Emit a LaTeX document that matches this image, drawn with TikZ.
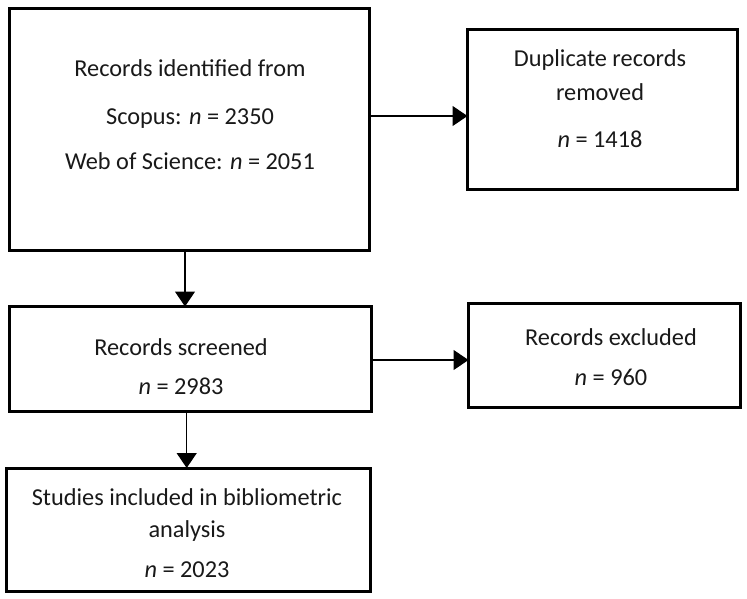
\documentclass[tikz,border=0pt]{standalone}
\usepackage{fontspec}
\setmainfont{Carlito}
\usetikzlibrary{arrows.meta}
\begin{document}
\begin{tikzpicture}[x=1pt,y=-1pt,
  box/.style={draw=black,line width=3pt,inner sep=0pt,outer sep=0pt,rectangle},
  txt/.style={anchor=base,inner sep=0pt,text=black!90,font=\fontsize{24.3}{29}\selectfont},
  arr/.style={draw=black,line width=1.3pt,-{Triangle[length=15pt,width=20pt]}}]
\useasboundingbox (0,0) rectangle (747,598);
\fill[white] (0,0) rectangle (747,598);
% boxes
\node[box,minimum width=360.5pt,minimum height=241.3pt] (b1) at (189.25,129.35) {};
\node[box,minimum width=270pt,minimum height=159.5pt] (b2) at (602.5,109.25) {};
\node[box,minimum width=362.5pt,minimum height=105pt] (b3) at (190.25,359) {};
\node[box,minimum width=271.5pt,minimum height=103.5pt] (b4) at (604.25,355.25) {};
\node[box,minimum width=363.3pt,minimum height=123.7pt] (b5) at (188.35,529.85) {};
% texts
\node[txt] (t1a) at (190,76.7) {Records identified from};
\node[txt] (t1b) at (190,124.3) {Scopus: \textit{n} = 2350};
\node[txt] (t1c) at (190,169.3) {Web of Science: \textit{n} = 2051};
\node[txt] (t2a) at (600,66) {Duplicate records};
\node[txt] (t2b) at (600,100) {removed};
\node[txt] (t2c) at (600,147.7) {\textit{n} = 1418};
\node[txt] (t3a) at (181,355) {Records screened};
\node[txt] (t3b) at (181,394) {\textit{n} = 2983};
\node[txt] (t4a) at (611,345) {Records excluded};
\node[txt] (t4b) at (611,385) {\textit{n} = 960};
\node[txt] (t5a) at (187,505) {Studies included in bibliometric};
\node[txt] (t5b) at (187,537) {analysis};
\node[txt] (t5c) at (187,577) {\textit{n} = 2023};
% connector guides
\coordinate (h1) at (0,116);
\coordinate (h2) at (0,360);
\coordinate (v1) at (185,0);
\coordinate (v2) at (186.7,0);
% connectors
\draw[arr] (b1.east |- h1) -- (b2.west |- h1);
\draw[arr] (v1 |- b1.south) -- (v1 |- b3.north);
\draw[arr] (b3.east |- h2) -- (b4.west |- h2);
\draw[arr] (v2 |- b3.south) -- (v2 |- b5.north);
\end{tikzpicture}
\end{document}
